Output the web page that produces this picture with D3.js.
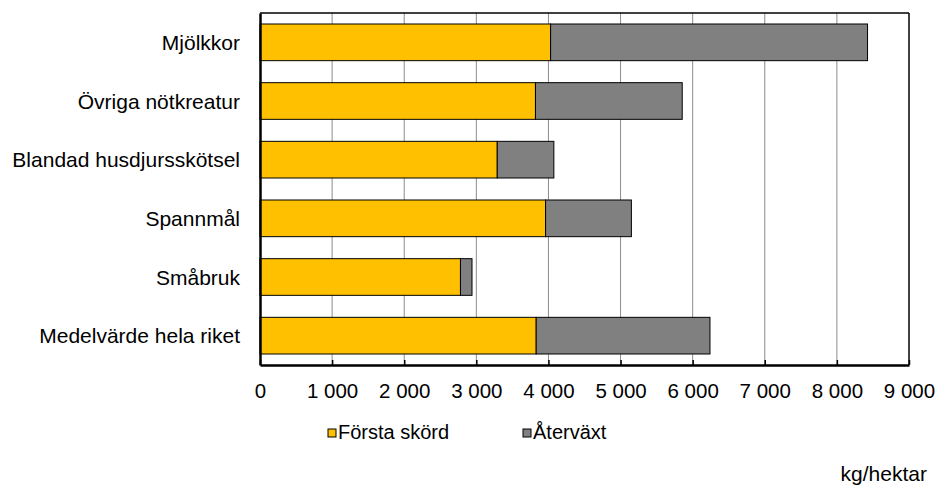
<!DOCTYPE html>
<html>
<head>
<meta charset="utf-8">
<script src="https://cdn.jsdelivr.net/npm/d3@7"></script>
<style>
  body { margin: 0; background: #fff; }
  text { font-family: "Liberation Sans", Arial, sans-serif; fill: #000; }
</style>
</head>
<body>
<div id="chart"></div>
<script>
// Data
const categories = ['Mjölkkor', 'Övriga nötkreatur', 'Blandad husdjursskötsel', 'Spannmål', 'Småbruk', 'Medelvärde hela riket'];
const forstaSkord = [4030, 3820, 3290, 3960, 2780, 3830];
const atervaxt = [4395, 2035, 785, 1190, 160, 2410];
const xTicks = [0, 1000, 2000, 3000, 4000, 5000, 6000, 7000, 8000, 9000];
const seriesNames = ['Första skörd', 'Återväxt'];
const seriesColors = ['#FFC000', '#808080'];

let W = 937, H = 487;
let margin = { left: 260, right: 28, top: 13, bottom: 122 };
let width = W - margin.left - margin.right;
let height = H - margin.top - margin.bottom;

var svg = d3.select('#chart')
    .append('svg')
        .attr('width', W)
        .attr('height', H);

var g = svg.append('g')
    .attr('transform', 'translate(' + margin.left + ',' + margin.top + ')');

// Scales
var X = d3.scaleLinear()
    .domain([0, 9000])
    .range([0, width]);

var Y = d3.scaleBand()
    .domain(categories)
    .range([0, height])
    .paddingInner(0.375)
    .paddingOuter(0.1875);

// Gridlines
g.selectAll('.grid')
    .data(xTicks.slice(1, -1))
    .enter().append('line')
        .attr('x1', d => X(d)).attr('x2', d => X(d))
        .attr('y1', 0).attr('y2', height)
        .attr('stroke', '#8c8c8c')
        .attr('stroke-width', 1);

// Stacked bars
var rows = categories.map(function (c, i) {
  return { cat: c, vals: [forstaSkord[i], atervaxt[i]] };
});

rows.forEach(function (r) {
  let x0 = 0;
  r.vals.forEach(function (v, j) {
    g.append('rect')
        .attr('x', X(x0))
        .attr('y', Y(r.cat))
        .attr('width', X(x0 + v) - X(x0))
        .attr('height', Y.bandwidth())
        .attr('fill', seriesColors[j])
        .attr('stroke', '#000')
        .attr('stroke-width', 1);
    x0 += v;
  });
});

// Frame: top and right
g.append('line').attr('x1', 0).attr('x2', width).attr('y1', 0).attr('y2', 0)
    .attr('stroke', '#000').attr('stroke-width', 1.5);
g.append('line').attr('x1', width).attr('x2', width).attr('y1', 0).attr('y2', height)
    .attr('stroke', '#000').attr('stroke-width', 1.5);

// X axis (ticks pointing inward)
var xAxisCall = d3.axisBottom(X)
    .tickValues(xTicks)
    .tickSizeInner(-5)
    .tickSizeOuter(0)
    .tickPadding(0)
    .tickFormat(d => d3.format(',')(d).replace(/,/g, ' '));
var xAxis = g.append('g')
    .attr('transform', 'translate(0,' + height + ')')
    .call(xAxisCall);
xAxis.select('.domain').attr('stroke', '#000').attr('stroke-width', 2.5);
xAxis.selectAll('.tick line').attr('stroke', '#000').attr('stroke-width', 1.5);
xAxis.selectAll('.tick text')
    .attr('y', 33)
    .attr('dy', null)
    .attr('font-size', '20.5px')
    .attr('font-family', '"Liberation Sans", Arial, sans-serif')
    .attr('fill', '#000');

// Y axis
var yAxisCall = d3.axisLeft(Y).tickSize(0).tickPadding(20);
var yAxis = g.append('g').call(yAxisCall);
yAxis.select('.domain').attr('stroke', '#000').attr('stroke-width', 2.5);
yAxis.selectAll('.tick text')
    .attr('dy', '0.36em')
    .attr('font-size', '21px')
    .attr('font-family', '"Liberation Sans", Arial, sans-serif')
    .attr('fill', '#000');

// Legend
var legendX = [328, 523];
var legend = svg.selectAll('.legend')
    .data(seriesNames)
    .enter().append('g')
        .attr('transform', (d, i) => 'translate(' + legendX[i] + ',429)');
legend.append('rect')
    .attr('width', 8).attr('height', 8)
    .attr('fill', (d, i) => seriesColors[i])
    .attr('stroke', '#000').attr('stroke-width', 1);
legend.append('text')
    .attr('x', 10).attr('y', 10)
    .attr('font-size', '20px')
    .text(d => d);

// Unit label
svg.append('text')
    .attr('x', 927).attr('y', 481)
    .attr('text-anchor', 'end')
    .attr('font-size', '21px')
    .text('kg/hektar');
</script>
</body>
</html>
